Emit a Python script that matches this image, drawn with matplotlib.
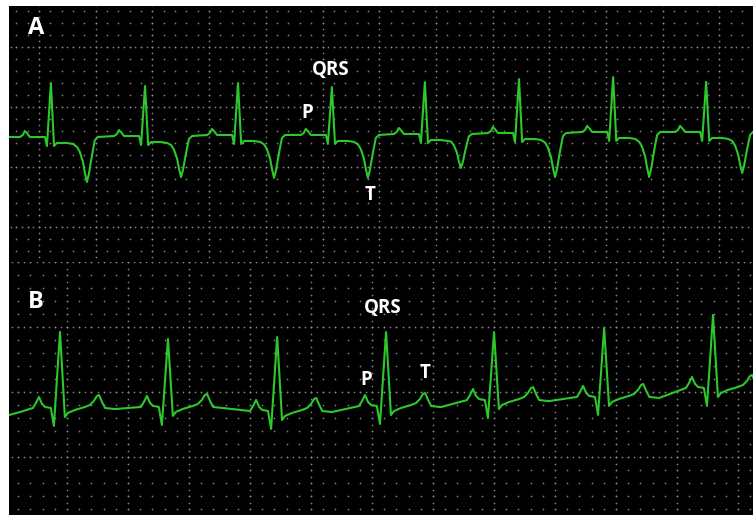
import numpy as np
import matplotlib
matplotlib.use("Agg")
import matplotlib.pyplot as plt

# ---- panel A (inverted T waves) ----
# R peak times (ms), baseline (mV), R height above baseline (mV), T trough depth (mV)
a_r_ms = [242, 574, 902, 1233, 1561, 1893, 2225, 2553]
a_base = [0.250, 0.258, 0.267, 0.267, 0.275, 0.283, 0.292, 0.292]
a_r_amp = [0.450, 0.417, 0.433, 0.400, 0.433, 0.450, 0.458, 0.417]
a_t_depth = [0.375, 0.342, 0.358, 0.358, 0.283, 0.367, 0.375, 0.342]

# beat shape of panel A relative to the R peak (ms, mV above baseline)
a_pre_dt = [-109, -99, -92, -85, -74, -21, -14]
a_pre_mv = [0.0, 0.017, 0.05, 0.033, 0.0, 0.0, -0.075]
a_post_dt = [11, 21, 56, 78]
a_post_mv = [-0.075, -0.05, -0.05, -0.058]
a_t_dt = [92, 102, 113, 120, 127, 134, 141, 148, 155, 166]
a_t_frac = [0.22, 0.33, 0.55, 0.8, 1.0, 0.82, 0.55, 0.3, 0.07, 0.0]

# ---- panel B (normal upright T waves) ----
b_r_ms = [177, 531, 889, 1246, 1600, 1961, 2318]
b_base = [-0.123, -0.115, -0.146, -0.108, -0.062, -0.038, 0.031]
b_r_amp = [0.585, 0.523, 0.569, 0.569, 0.523, 0.531, 0.562]
b_start_ms = [10, 46]
b_start_mv = [-0.177, -0.154]

b_pre_dt = [-89, -79, -69, -59, -49, -30, -20]
b_pre_mv = [0.0, 0.038, 0.085, 0.031, 0.008, 0.0, -0.138]
b_post_dt = [16, 26, 49, 82, 98, 111, 121, 128, 138, 148, 180]
b_post_mv = [-0.069, -0.038, -0.015, 0.008, 0.023, 0.054, 0.092, 0.1, 0.046, 0.0, -0.008]

# axis windows (ms, mV) for each panel
a_xlim = (94.2, 2718.3)
a_ylim = (-0.792, 1.342)
b_xlim = (9.8, 2449.0)
b_ylim = (-0.946, 1.0)

TRACE = "#2cc82c"
DOT = "#808080"


def trace_a():
    t, v = [a_xlim[0]], [a_base[0]]
    for r, base, amp, depth in zip(a_r_ms, a_base, a_r_amp, a_t_depth):
        t += [r + d for d in a_pre_dt] + [r] + [r + d for d in a_post_dt] + [r + d for d in a_t_dt]
        v += [base + m for m in a_pre_mv] + [base + amp] + [base + m for m in a_post_mv]
        v += [base - f * depth for f in a_t_frac]
    t.append(a_xlim[1])
    v.append(a_base[-1])
    return t, v


def trace_b():
    t, v = list(b_start_ms), list(b_start_mv)
    for r, base, amp in zip(b_r_ms, b_base, b_r_amp):
        t += [r + d for d in b_pre_dt] + [r] + [r + d for d in b_post_dt]
        v += [base + m for m in b_pre_mv] + [base + amp] + [base + m for m in b_post_mv]
    return t, v


def dot_grid(ax, xlim, ylim, dx=40.0, dy=0.1):
    i0, i1 = int(np.ceil(xlim[0] / dx)), int(np.floor(xlim[1] / dx))
    j0, j1 = int(np.ceil(ylim[0] / dy)), int(np.floor(ylim[1] / dy))
    xs = np.arange(i0, i1 + 1) * dx
    ys = np.arange(j0, j1 + 1) * dy
    X, Y = np.meshgrid(xs, ys)
    px, py = [X.ravel()], [Y.ravel()]
    # the heavy lines every 5 boxes get extra dots in between
    half_x = np.arange(2 * i0 - 1, 2 * i1 + 2) * dx / 2
    half_y = np.arange(2 * j0 - 1, 2 * j1 + 2) * dy / 2
    for j in range(j0, j1 + 1):
        if j % 5 == 0:
            px.append(half_x)
            py.append(np.full_like(half_x, j * dy))
    for i in range(i0, i1 + 1):
        if i % 5 == 0:
            px.append(np.full_like(half_y, i * dx))
            py.append(half_y)
    ax.scatter(np.concatenate(px), np.concatenate(py), s=1.5, c=DOT, linewidths=0, zorder=1)


fig = plt.figure(figsize=(7.53, 5.15), dpi=100, facecolor="white")
axA = fig.add_axes([9 / 753, 253 / 515, 744 / 753, 256 / 515])
axB = fig.add_axes([9 / 753, 0.0, 744 / 753, 253 / 515])

for ax, xl, yl in [(axA, a_xlim, a_ylim), (axB, b_xlim, b_ylim)]:
    ax.set_facecolor("black")
    ax.set_xlim(*xl)
    ax.set_ylim(*yl)
    ax.set_xticks([])
    ax.set_yticks([])
    for s in ax.spines.values():
        s.set_visible(False)
    dot_grid(ax, xl, yl)

ta, va = trace_a()
axA.plot(ta, va, color=TRACE, lw=1.5, zorder=3, solid_joinstyle="round")
tb, vb = trace_b()
axB.plot(tb, vb, color=TRACE, lw=1.5, zorder=3, solid_joinstyle="round")

lab = dict(color="white", fontweight="bold", family=["Open Sans", "DejaVu Sans"],
           ha="center", va="center", zorder=4)

axA.text(0.036, 0.914, "A", transform=axA.transAxes, fontsize=17, **lab)
axB.text(0.036, 0.842, "B", transform=axB.transAxes, fontsize=17, **lab)

# wave labels on the fourth beat of each trace
k = 3
axA.text(a_r_ms[k] - 3, a_base[k] + a_r_amp[k] + 0.14, "QRS", fontsize=13.5, **lab)
axA.text(a_r_ms[k] - 88, a_base[k] + 0.18, "P", fontsize=13.5, **lab)
axA.text(a_r_ms[k] + 134, a_base[k] - a_t_depth[k] - 0.14, "T", fontsize=13.5, **lab)

axB.text(b_r_ms[k] - 10, b_base[k] + b_r_amp[k] + 0.185, "QRS", fontsize=13.5, **lab)
axB.text(b_r_ms[k] - 66, b_base[k] + 0.2, "P", fontsize=13.5, **lab)
axB.text(b_r_ms[k] + 128, b_base[k] + 0.254, "T", fontsize=13.5, **lab)

fig.savefig("out.png", dpi=100, facecolor="white")
